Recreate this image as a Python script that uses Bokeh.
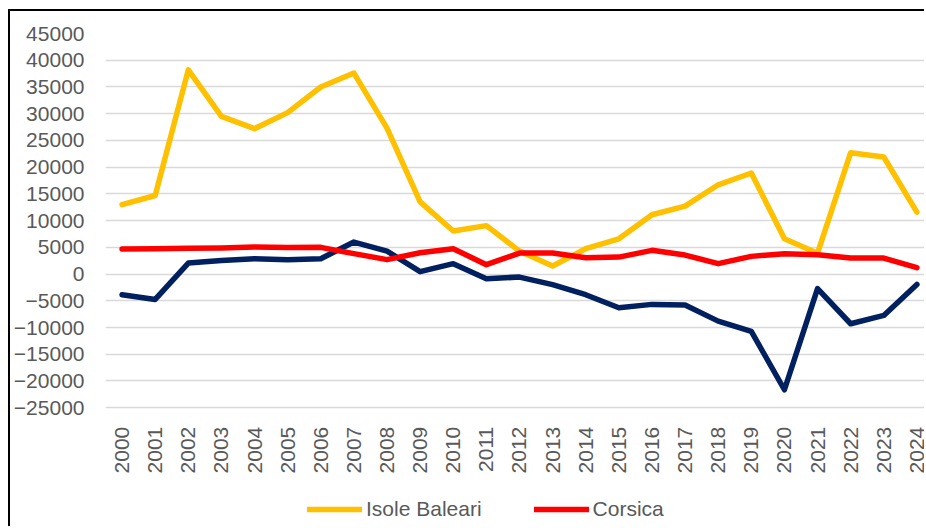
import math
from bokeh.plotting import figure
from bokeh.models import Legend, LegendItem, FixedTicker, Range1d
from bokeh.embed import file_html
from bokeh.resources import INLINE

years = [str(y) for y in range(2000, 2025)]
isole_baleari = [13000, 14700, 38200, 29500, 27200, 30200, 35000, 37600, 27300, 13500,
                 8050, 9060, 4300, 1500, 4750, 6600, 11100, 12700, 16700, 18900,
                 6600, 3900, 22700, 21900, 11600]
corsica = [4700, 4750, 4850, 4900, 5050, 4950, 5000, 3820, 2700, 4000,
           4750, 1760, 3930, 3930, 3070, 3180, 4440, 3560, 1950, 3310,
           3820, 3630, 3000, 3000, 1200]
serie_3 = [-3860, -4740, 2060, 2560, 2880, 2700, 2880, 5990, 4300, 450,
           1950, -860, -560, -1980, -3860, -6290, -5670, -5800, -8800, -10730,
           -21640, -2730, -9290, -7730, -1930]
y_ticks = list(range(-25000, 45001, 5000))

xs = list(range(len(years)))

# frame spans from y=33.3 to the bottom of the canvas; -25000 sits at y=407.3
px_per_unit = 374.0 / 70000.0
y_bottom = -25000 - (528 - 407.3) / px_per_unit

p = figure(width=916, height=517, output_backend="svg", toolbar_location=None,
           x_range=Range1d(-0.5, 24.29), y_range=Range1d(y_bottom, 45000),
           min_border_left=92, min_border_right=0, min_border_top=22, min_border_bottom=0)
p.styles = {"margin-left": "8px", "margin-top": "9px",
            "border-left": "2px solid black", "border-top": "2px solid black"}
p.outline_line_color = None

lw = 5.5
r_sar = p.line(xs, serie_3, line_color="#002060", line_width=lw, line_join="round", line_cap="round")
r_ib = p.line(xs, isole_baleari, line_color="#FFC000", line_width=lw, line_join="round", line_cap="round")
r_co = p.line(xs, corsica, line_color="#FF0000", line_width=lw, line_join="round", line_cap="round")

p.xgrid.grid_line_color = None
p.ygrid.grid_line_color = "#d9d9d9"
p.ygrid.grid_line_width = 1.5
p.yaxis.ticker = FixedTicker(ticks=y_ticks)
p.xaxis.ticker = FixedTicker(ticks=xs)
p.xaxis.major_label_overrides = {i: y for i, y in enumerate(years)}
p.xaxis.major_label_orientation = math.pi / 2
p.xaxis.fixed_location = -25000

for ax in (p.xaxis[0], p.yaxis[0]):
    ax.axis_line_color = None
    ax.major_tick_line_color = None
    ax.minor_tick_line_color = None
    ax.major_tick_out = 0
    ax.major_tick_in = 0
    ax.minor_tick_out = 0
    ax.minor_tick_in = 0
    ax.major_label_text_font = "Liberation Sans"
    ax.major_label_text_font_size = "21px"
    ax.major_label_text_color = "#595959"
p.yaxis.major_label_standoff = 21
p.xaxis.major_label_standoff = 19

legend = Legend(items=[LegendItem(label="Isole Baleari", renderers=[r_ib]),
                       LegendItem(label="Corsica", renderers=[r_co])],
                orientation="horizontal", location=(202, 7),
                glyph_width=55, glyph_height=22, label_standoff=4, spacing=52,
                label_text_font="Liberation Sans", label_text_font_size="21px",
                label_text_color="#595959", border_line_color=None,
                background_fill_alpha=0, padding=0, margin=0)
p.add_layout(legend, "center")

open("out.html", "w").write(file_html(p, INLINE))
